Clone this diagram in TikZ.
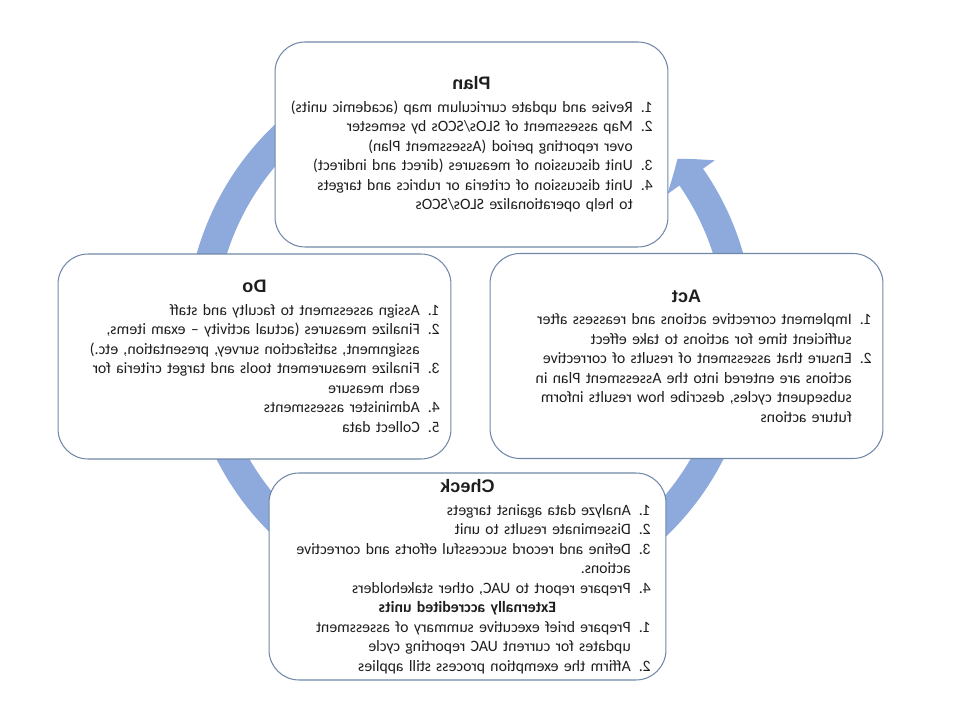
\documentclass[tikz,border=0pt]{standalone}
\usepackage{fontspec}
\setmainfont{Carlito}
\newfontfamily\headfont{Liberation Sans}
\usetikzlibrary{arrows.meta,bending}
\definecolor{ringblue}{HTML}{8EA9DB}
\definecolor{boxline}{HTML}{7088A8}
\definecolor{bodytext}{HTML}{1E1E1E}
\newlength{\numwd}\setlength{\numwd}{11.5pt}
\newcommand{\phaseitem}[2]{\par\noindent\hangindent=\numwd\hangafter=1\makebox[\numwd][l]{#1}#2}
\newcommand{\phasetitle}[1]{{\centering\headfont\bfseries\fontsize{10.3}{14.5}\selectfont #1\par}\vspace{1.8pt}}
\newcommand{\phasesub}[1]{\par{\centering\bfseries #1\par}}

\begin{document}
\begin{tikzpicture}[
    x=0.02cm, y=0.02cm,
    xscale=-1, transform shape,
    font=\fontsize{9}{11.1}\selectfont,
    box/.style={
        draw=boxline,
        fill=white,
        line width=0.6pt,
        rounded corners=0.6cm,
        text=bodytext,
        align=left,
        inner xsep=0.3cm,
        inner ysep=2pt,
        text width=7.26cm,
        minimum width=7.86cm,
        minimum height=4.1cm
    },
    ringarrow/.style={draw=ringblue, line width=0.58cm, -{Triangle[length=0.46cm, width=1.14cm, bend]}}
]
\useasboundingbox (0,0) rectangle (960,720);
\coordinate (hub) at (490,389);
\draw[ringarrow] (hub) ++(75:269.5) arc[start angle=75, end angle=-219.7, radius=269.5];

\node[box] (plan) at (488.5,575.5) {\phasetitle{Plan}
\phaseitem{1.}{Revise and update curriculum map (academic units)}
\phaseitem{2.}{Map assessment of SLOs/SCOs by semester\newline over reporting period (Assessment Plan)}
\phaseitem{3.}{Unit discussion of measures (direct and indirect)}
\phaseitem{4.}{Unit discussion of criteria or rubrics and targets\newline to help operationalize SLOs/SCOs}\par};
\node[box, inner xsep=0.22cm, text width=7.42cm] (do) at (705.5,363.5) {\phasetitle{Do}
\phaseitem{1.}{Assign assessment to faculty and staff}
\phaseitem{2.}{Finalize measures (actual activity -- exam items,\newline assignment, satisfaction survey, presentation, etc.)}
\phaseitem{3.}{Finalize measurement tools and target criteria for\newline each measure}
\phaseitem{4.}{Administer assessments}
\phaseitem{5.}{Collect data}\par};
\node[box, inner xsep=0.22cm, text width=7.42cm] (act) at (273.5,364) {\phasetitle{Act}
\phaseitem{1.}{Implement corrective actions and reassess after\newline sufficient time for actions to take effect}
\phaseitem{2.}{Ensure that assessment of results of corrective\newline actions are entered into the Assessment Plan in\newline subsequent cycles, describe how results inform\newline future actions}\par};
\node[box, text width=7.34cm, minimum width=7.94cm, minimum height=4.14cm] (check) at (492.5,143.5) {\phasetitle{Check}
\phaseitem{1.}{Analyze data against targets}
\phaseitem{2.}{Disseminate results to unit}
\phaseitem{3.}{Define and record successful efforts and corrective\newline actions.}
\phaseitem{4.}{Prepare report to UAC, other stakeholders}
\phasesub{Externally accredited units}
\phaseitem{1.}{Prepare brief executive summary of assessment\newline updates for current UAC reporting cycle}
\phaseitem{2.}{Affirm the exemption process still applies}\par};
\end{tikzpicture}
\end{document}
